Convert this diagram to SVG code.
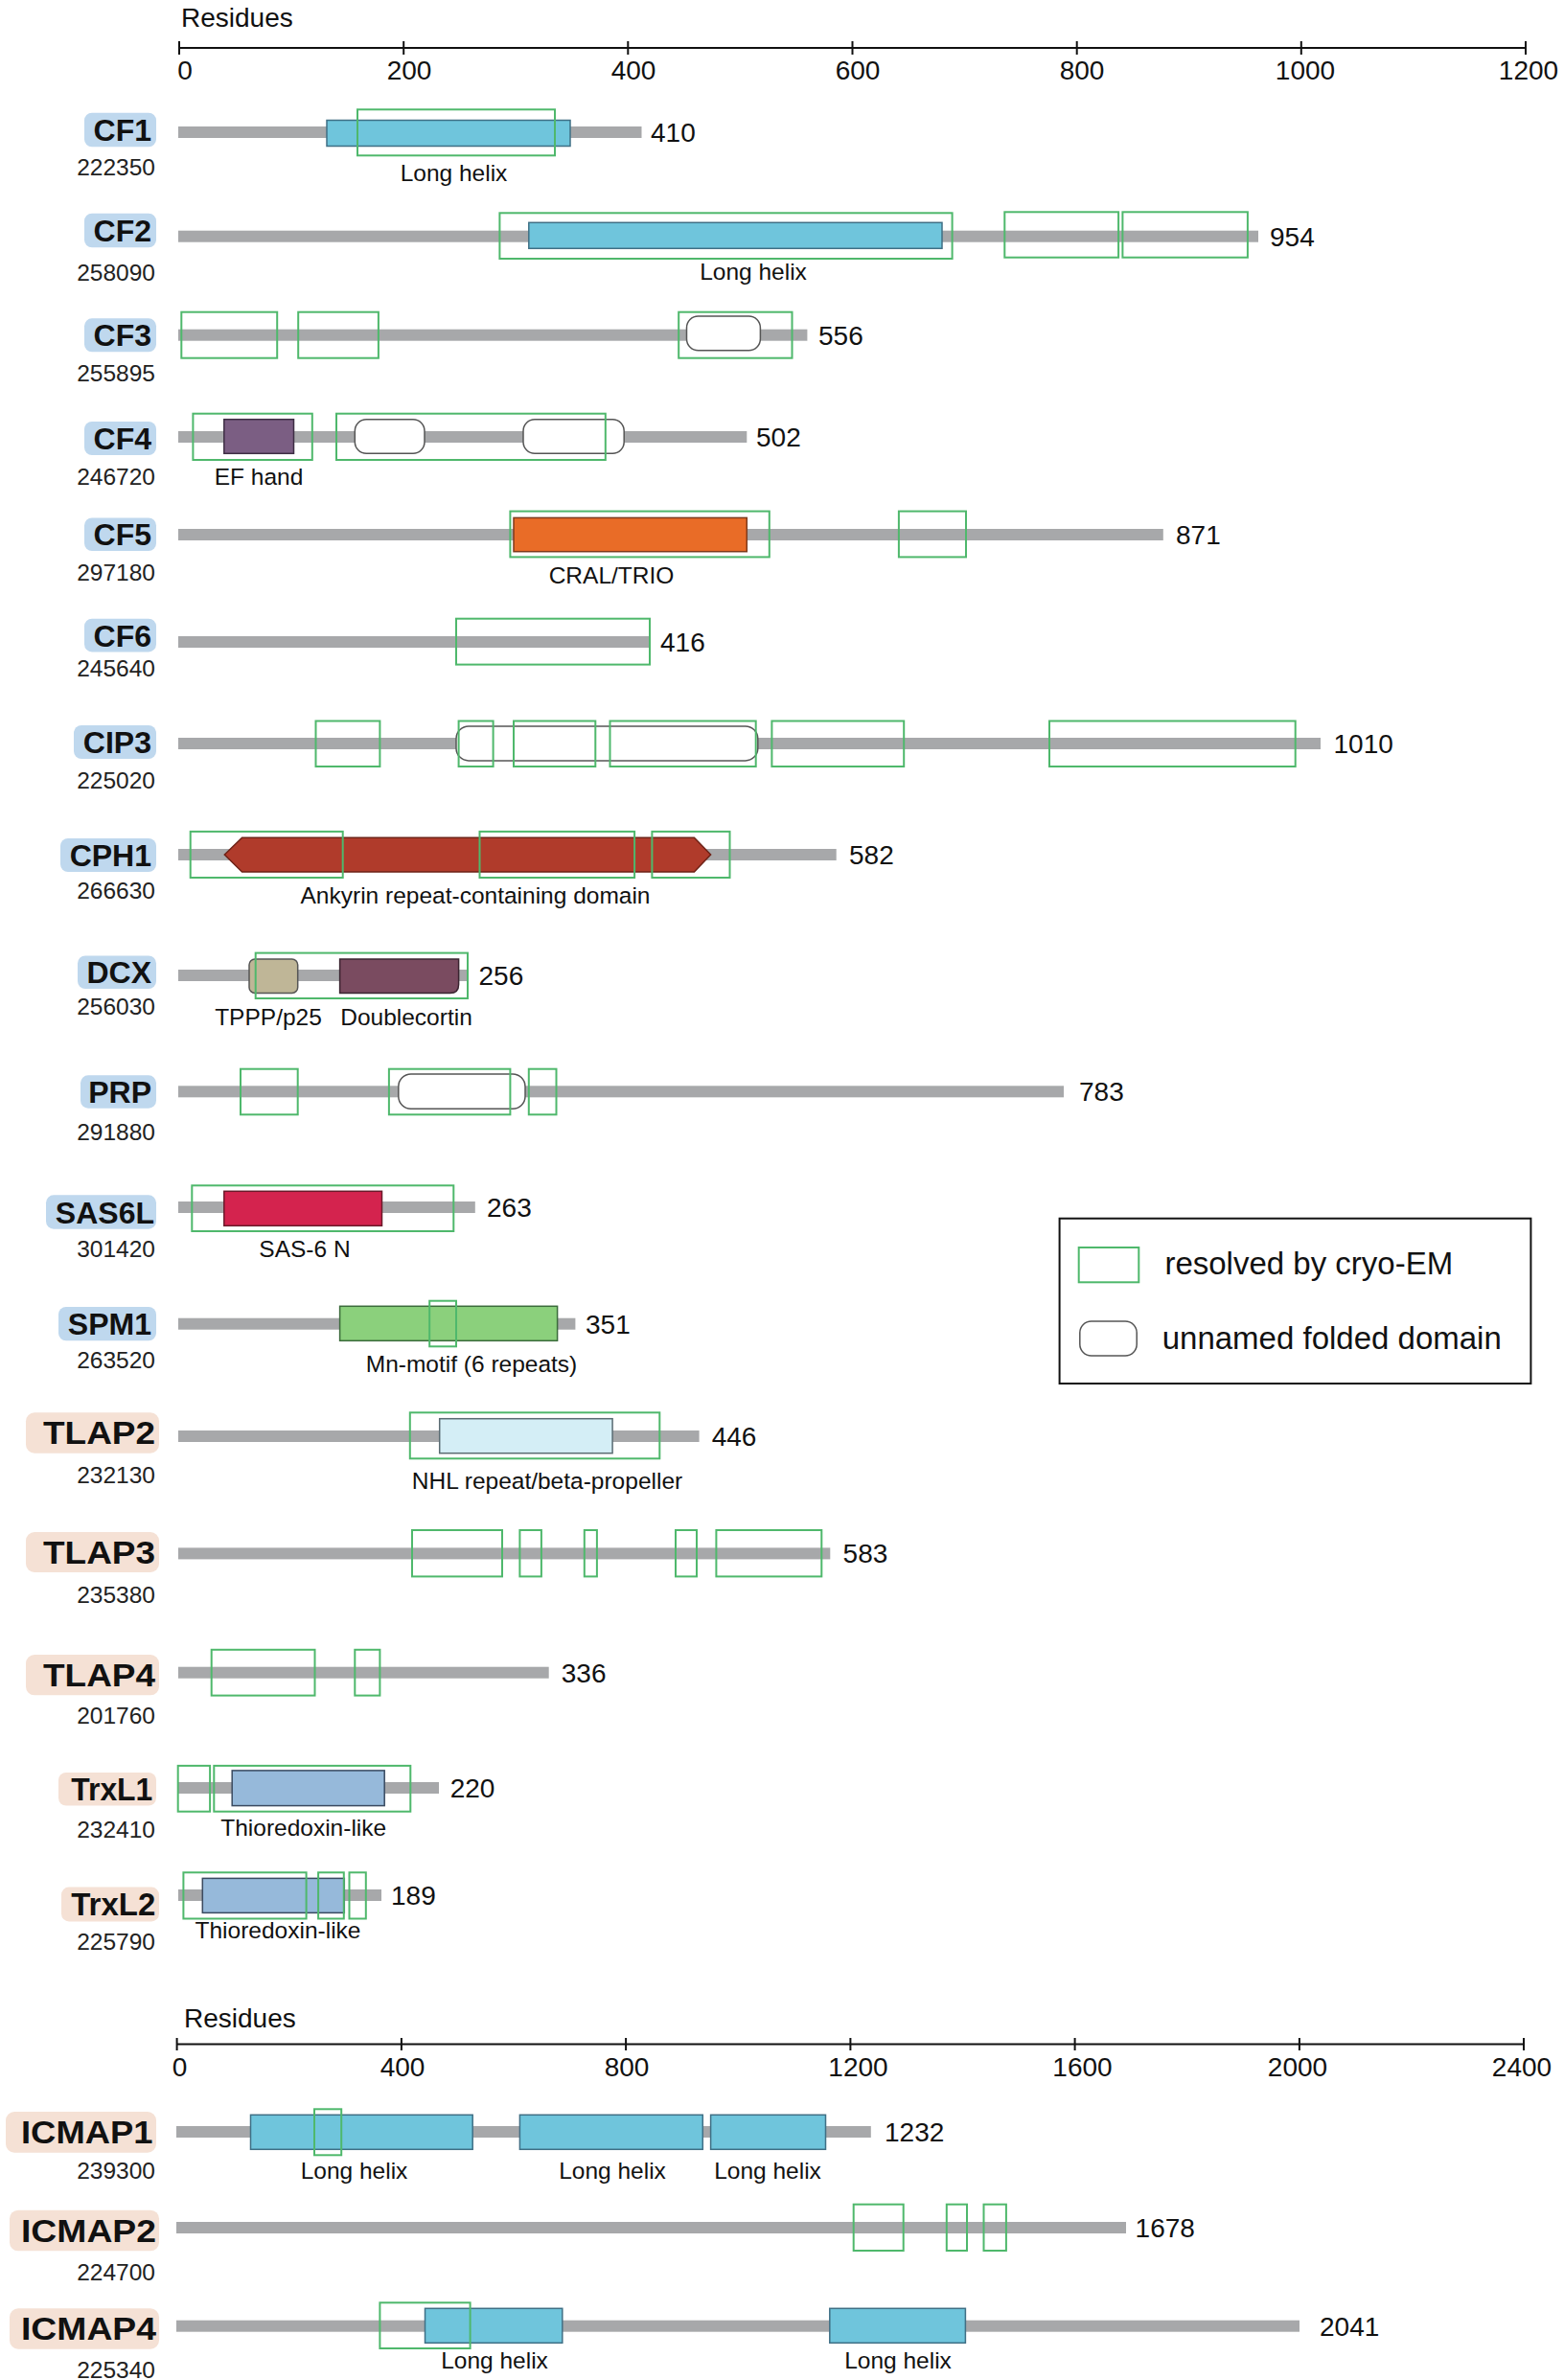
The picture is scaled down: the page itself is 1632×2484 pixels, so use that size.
<svg xmlns="http://www.w3.org/2000/svg" width="1632" height="2484" viewBox="0 0 1632 2484">
<style>
text{font-family:"Liberation Sans",Arial,sans-serif;fill:#111}
.bar{fill:#a7a8aa}
.res{fill:none;stroke:#4fb86c;stroke-width:2}
.helix{fill:#6fc5dc;stroke:#3f6f85;stroke-width:1.5}
.unf{fill:#fff;stroke:#555;stroke-width:1.5}
.nb{fill:#bfd8ee}
.np{fill:#f5e1d5}
.name{font-size:32px;font-weight:bold;text-anchor:end}
.pname{font-size:33px;font-weight:bold}
.id{font-size:24.5px;text-anchor:end;fill:#222}
.len{font-size:28px}
.dl{font-size:24.5px;text-anchor:middle}
.ax{stroke:#111;stroke-width:2;fill:none}
.tk{font-size:28px;text-anchor:middle}
</style>

<g id="axis-top">
<text x="189" y="28" style="font-size:28px">Residues</text>
<path class="ax" d="M187 50H1592M187 43V57M421.2 43V57M655.3 43V57M889.5 43V57M1123.7 43V57M1357.8 43V57M1592 43V57"/>
<text class="tk" x="193" y="83">0</text>
<text class="tk" x="427" y="83">200</text>
<text class="tk" x="661" y="83">400</text>
<text class="tk" x="895" y="83">600</text>
<text class="tk" x="1129" y="83">800</text>
<text class="tk" x="1362" y="83">1000</text>
<text class="tk" x="1595" y="83">1200</text>
</g>

<g id="CF1">
<rect class="nb" x="88" y="117.7" width="75" height="35.6" rx="8"/>
<text class="name" x="158" y="147">CF1</text>
<text class="id" x="162" y="183">222350</text>
<rect class="bar" x="186" y="132" width="483.5" height="12"/>
<rect class="helix" x="341" y="125.5" width="254" height="27"/>
<rect class="res" x="373" y="114.3" width="206" height="48"/>
<text class="dl" x="473.5" y="189">Long helix</text>
<text class="len" x="679" y="148">410</text>
</g>

<g id="CF2">
<rect class="nb" x="88" y="222.7" width="75" height="35.6" rx="8"/>
<text class="name" x="158" y="252">CF2</text>
<text class="id" x="162" y="292.5">258090</text>
<rect class="bar" x="186" y="240.7" width="1127" height="12"/>
<rect class="helix" x="551.8" y="232.3" width="431.2" height="27"/>
<rect class="res" x="521.4" y="222.3" width="472.2" height="47.7"/>
<rect class="res" x="1048.3" y="221.3" width="118.8" height="47.4"/>
<rect class="res" x="1171.4" y="221.3" width="130.5" height="47.4"/>
<text class="dl" x="786" y="292">Long helix</text>
<text class="len" x="1325" y="256.7">954</text>
</g>

<g id="CF3">
<rect class="nb" x="88" y="332.3" width="75" height="35" rx="8"/>
<text class="name" x="158" y="361.3">CF3</text>
<text class="id" x="162" y="398">255895</text>
<rect class="bar" x="186" y="343.7" width="656.4" height="12"/>
<rect class="unf" x="716.5" y="330" width="76.9" height="35.7" rx="12"/>
<rect class="res" x="189.3" y="325.7" width="99.9" height="48"/>
<rect class="res" x="311.2" y="325.7" width="83.7" height="48"/>
<rect class="res" x="708.2" y="325.7" width="118.3" height="48"/>
<text class="len" x="854" y="359.7">556</text>
</g>

<g id="CF4">
<rect class="nb" x="88" y="440" width="75" height="35" rx="8"/>
<text class="name" x="158" y="469">CF4</text>
<text class="id" x="162" y="505.5">246720</text>
<rect class="bar" x="186" y="450" width="593.3" height="12"/>
<rect x="233.8" y="437.7" width="72.7" height="35.6" fill="#7b5e83" stroke="#3e2e44" stroke-width="1.5"/>
<rect class="unf" x="370.3" y="437.7" width="72.7" height="35.6" rx="12"/>
<rect class="unf" x="546" y="437.7" width="105.2" height="35.6" rx="12"/>
<rect class="res" x="201.4" y="431.7" width="124.4" height="48.3"/>
<rect class="res" x="351" y="431.7" width="280.8" height="48.3"/>
<text class="dl" x="270" y="505.5">EF hand</text>
<text class="len" x="789" y="466">502</text>
</g>

<g id="CF5">
<rect class="nb" x="88" y="540.4" width="75" height="34.6" rx="8"/>
<text class="name" x="158" y="569.2">CF5</text>
<text class="id" x="162" y="606">297180</text>
<rect class="bar" x="186" y="552" width="1027.8" height="12"/>
<rect x="536" y="540.4" width="243.3" height="35.3" fill="#e96c27" stroke="#7d3a1c" stroke-width="1.5"/>
<rect class="res" x="532.4" y="533.6" width="270.4" height="47.8"/>
<rect class="res" x="937.9" y="533.6" width="70.1" height="47.8"/>
<text class="dl" x="638" y="609">CRAL/TRIO</text>
<text class="len" x="1227" y="568">871</text>
</g>

<g id="CF6">
<rect class="nb" x="88" y="645.7" width="75" height="34.7" rx="8"/>
<text class="name" x="158" y="674.5">CF6</text>
<text class="id" x="162" y="706">245640</text>
<rect class="bar" x="186" y="664" width="492.3" height="12"/>
<rect class="res" x="476" y="645.7" width="202" height="47.9"/>
<text class="len" x="689" y="680">416</text>
</g>

<g id="CIP3">
<rect class="nb" x="77" y="757" width="86" height="35" rx="8"/>
<text class="name" x="158" y="786">CIP3</text>
<text class="id" x="162" y="823">225020</text>
<rect class="bar" x="186" y="770" width="1192" height="12"/>
<rect class="unf" x="476" y="757.9" width="314.8" height="36" rx="13"/>
<rect class="res" x="329.5" y="752.5" width="66.9" height="47.5"/>
<rect class="res" x="478.6" y="752.5" width="36" height="47.5"/>
<rect class="res" x="536" y="752.5" width="85.3" height="47.5"/>
<rect class="res" x="636.5" y="752.5" width="152.2" height="47.5"/>
<rect class="res" x="805.4" y="752.5" width="137.8" height="47.5"/>
<rect class="res" x="1095" y="752.5" width="256.7" height="47.5"/>
<text class="len" x="1391.5" y="786">1010</text>
</g>

<g id="CPH1">
<rect class="nb" x="63" y="875" width="100" height="35" rx="8"/>
<text class="name" x="158" y="904">CPH1</text>
<text class="id" x="162" y="937.5">266630</text>
<rect class="bar" x="186" y="886" width="686.7" height="12"/>
<polygon points="234.3,892 252.6,874.3 724.4,874.3 741.6,892 724.4,910 252.6,910" fill="#b03b2b" stroke="#6e2217" stroke-width="1.5"/>
<rect class="res" x="198.7" y="867.9" width="159" height="48.1"/>
<rect class="res" x="500.5" y="867.9" width="161.6" height="48.1"/>
<rect class="res" x="680.4" y="867.9" width="81.1" height="48.1"/>
<text class="dl" x="496" y="943">Ankyrin repeat-containing domain</text>
<text class="len" x="886" y="902">582</text>
</g>

<g id="DCX">
<rect class="nb" x="81" y="997.5" width="82" height="34.5" rx="8"/>
<text class="name" x="158" y="1026.2">DCX</text>
<text class="id" x="162" y="1059">256030</text>
<rect class="bar" x="186" y="1012" width="303" height="12"/>
<rect x="260" y="1001" width="50.7" height="35.4" rx="6" fill="#bfb697" stroke="#555" stroke-width="1.5"/>
<path d="M354.6 1001H478.6V1027.4Q478.6 1036.4 469.6 1036.4H354.6Z" fill="#7a4b60" stroke="#3a2430" stroke-width="1.5"/>
<rect class="res" x="266.7" y="994.6" width="221.3" height="47.4"/>
<text class="dl" x="280" y="1070">TPPP/p25</text>
<text class="dl" x="424" y="1070">Doublecortin</text>
<text class="len" x="499.5" y="1028">256</text>
</g>

<g id="PRP">
<rect class="nb" x="84" y="1122.3" width="79" height="34.4" rx="8"/>
<text class="name" x="158" y="1151">PRP</text>
<text class="id" x="162" y="1190">291880</text>
<rect class="bar" x="186" y="1133.3" width="924" height="12"/>
<rect class="unf" x="415.8" y="1121" width="132.2" height="36.3" rx="13"/>
<rect class="res" x="251" y="1115.7" width="59.7" height="47.6"/>
<rect class="res" x="405.9" y="1115.7" width="126.5" height="47.6"/>
<rect class="res" x="551.8" y="1115.7" width="28.7" height="47.6"/>
<text class="len" x="1126" y="1149">783</text>
</g>

<g id="SAS6L">
<rect class="nb" x="48" y="1247.3" width="115" height="35.4" rx="8"/>
<text class="name" x="161" y="1276.5">SAS6L</text>
<text class="id" x="162" y="1311.7">301420</text>
<rect class="bar" x="186" y="1254" width="309.8" height="12"/>
<rect x="233.8" y="1243.3" width="164.7" height="36" fill="#d4234e" stroke="#6a1a2a" stroke-width="1.5"/>
<rect class="res" x="200.3" y="1237.3" width="273" height="47.7"/>
<text class="dl" x="318" y="1312">SAS-6 N</text>
<text class="len" x="508" y="1270">263</text>
</g>

<g id="SPM1">
<rect class="nb" x="61" y="1364" width="102" height="35.3" rx="8"/>
<text class="name" x="158" y="1393.2">SPM1</text>
<text class="id" x="162" y="1428">263520</text>
<rect class="bar" x="186" y="1375.7" width="414.4" height="12"/>
<rect x="354.6" y="1363.3" width="227" height="36" fill="#8bd07c" stroke="#3b6b3b" stroke-width="1.5"/>
<rect class="res" x="448.2" y="1357.7" width="27.8" height="47.6"/>
<text class="dl" x="492" y="1432">Mn-motif (6 repeats)</text>
<text class="len" x="611" y="1391.7">351</text>
</g>

<g id="TLAP2">
<rect class="np" x="27" y="1474.3" width="139" height="42.4" rx="9"/>
<text class="pname" x="45" y="1507" textLength="117" lengthAdjust="spacingAndGlyphs">TLAP2</text>
<text class="id" x="162" y="1547.7">232130</text>
<rect class="bar" x="186" y="1493" width="543.6" height="12"/>
<rect x="458.7" y="1480.7" width="180.4" height="36" fill="#d4eef6" stroke="#5a6b72" stroke-width="1.5"/>
<rect class="res" x="427.8" y="1474.3" width="260.5" height="48"/>
<text class="dl" x="571" y="1554">NHL repeat/beta-propeller</text>
<text class="len" x="742.7" y="1509">446</text>
</g>

<g id="TLAP3">
<rect class="np" x="27" y="1599" width="139" height="42" rx="9"/>
<text class="pname" x="45" y="1631.5" textLength="117" lengthAdjust="spacingAndGlyphs">TLAP3</text>
<text class="id" x="162" y="1673">235380</text>
<rect class="bar" x="186" y="1615.4" width="680.3" height="12"/>
<rect class="res" x="430" y="1597" width="94" height="48.4"/>
<rect class="res" x="542.4" y="1597" width="22.5" height="48.4"/>
<rect class="res" x="609.8" y="1597" width="13.1" height="48.4"/>
<rect class="res" x="705" y="1597" width="22" height="48.4"/>
<rect class="res" x="747.4" y="1597" width="109.9" height="48.4"/>
<text class="len" x="879.6" y="1631.4">583</text>
</g>

<g id="TLAP4">
<rect class="np" x="27" y="1727" width="139" height="42.3" rx="9"/>
<text class="pname" x="45" y="1759.7" textLength="117" lengthAdjust="spacingAndGlyphs">TLAP4</text>
<text class="id" x="162" y="1799">201760</text>
<rect class="bar" x="186" y="1739.7" width="386.7" height="12"/>
<rect class="res" x="220.7" y="1721.8" width="107.8" height="47.8"/>
<rect class="res" x="370.3" y="1721.8" width="26.1" height="47.8"/>
<text class="len" x="585.8" y="1755.7">336</text>
</g>

<g id="TrxL1">
<rect class="np" x="61" y="1850" width="102" height="34.6" rx="8"/>
<text class="pname" x="74.3" y="1878.8" textLength="85" lengthAdjust="spacingAndGlyphs">TrxL1</text>
<text class="id" x="162" y="1918">232410</text>
<rect class="bar" x="186" y="1860" width="272" height="12"/>
<rect x="242.2" y="1847.9" width="159" height="36.7" fill="#96b9da" stroke="#3a4a60" stroke-width="1.5"/>
<rect class="res" x="185.7" y="1842.9" width="33.4" height="47.8"/>
<rect class="res" x="223.3" y="1842.9" width="205" height="47.8"/>
<text class="dl" x="316.7" y="1916">Thioredoxin-like</text>
<text class="len" x="469.7" y="1876">220</text>
</g>

<g id="TrxL2">
<rect class="np" x="64" y="1969.6" width="102" height="35.8" rx="8"/>
<text class="pname" x="74.3" y="1999" textLength="88" lengthAdjust="spacingAndGlyphs">TrxL2</text>
<text class="id" x="162" y="2034.5">225790</text>
<rect class="bar" x="186" y="1972" width="212" height="12"/>
<rect x="211.3" y="1960.4" width="148" height="36" fill="#96b9da" stroke="#3a4a60" stroke-width="1.5"/>
<rect class="res" x="191.4" y="1954.3" width="128.2" height="48.2"/>
<rect class="res" x="332.1" y="1954.3" width="26.7" height="48.2"/>
<rect class="res" x="364.5" y="1954.3" width="17.3" height="48.2"/>
<text class="dl" x="290" y="2023">Thioredoxin-like</text>
<text class="len" x="408" y="1988">189</text>
</g>

<g id="axis-bottom">
<text x="192" y="2116" style="font-size:28px">Residues</text>
<path class="ax" d="M184.6 2133.5H1590M184.6 2127V2140M418.9 2127V2140M653.1 2127V2140M887.4 2127V2140M1121.6 2127V2140M1355.9 2127V2140M1590 2127V2140"/>
<text class="tk" x="187.5" y="2167">0</text>
<text class="tk" x="420" y="2167">400</text>
<text class="tk" x="654" y="2167">800</text>
<text class="tk" x="895.5" y="2167">1200</text>
<text class="tk" x="1129.5" y="2167">1600</text>
<text class="tk" x="1354" y="2167">2000</text>
<text class="tk" x="1588" y="2167">2400</text>
</g>

<g id="ICMAP1">
<rect class="np" x="6" y="2204" width="157" height="42.7" rx="9"/>
<text class="pname" x="22" y="2237" textLength="137.5" lengthAdjust="spacingAndGlyphs">ICMAP1</text>
<text class="id" x="162" y="2274">239300</text>
<rect class="bar" x="184" y="2219" width="724.8" height="12"/>
<rect class="helix" x="261.5" y="2207.3" width="231.7" height="36"/>
<rect class="helix" x="542.4" y="2207.3" width="190.9" height="36"/>
<rect class="helix" x="741.6" y="2207.3" width="119.9" height="36"/>
<rect class="res" x="328" y="2201.3" width="28.2" height="48"/>
<text class="dl" x="369.5" y="2274">Long helix</text>
<text class="dl" x="639" y="2274">Long helix</text>
<text class="dl" x="801" y="2274">Long helix</text>
<text class="len" x="923" y="2235">1232</text>
</g>

<g id="ICMAP2">
<rect class="np" x="10" y="2306.7" width="156" height="42.6" rx="9"/>
<text class="pname" x="22" y="2339.5" textLength="141" lengthAdjust="spacingAndGlyphs">ICMAP2</text>
<text class="id" x="162" y="2380">224700</text>
<rect class="bar" x="184" y="2319" width="991" height="12"/>
<rect class="res" x="890.7" y="2300.7" width="52" height="48.3"/>
<rect class="res" x="987.8" y="2300.7" width="21.2" height="48.3"/>
<rect class="res" x="1026.5" y="2300.7" width="23.4" height="48.3"/>
<text class="len" x="1184.6" y="2335">1678</text>
</g>

<g id="ICMAP4">
<rect class="np" x="10" y="2409.3" width="156" height="42.4" rx="9"/>
<text class="pname" x="22" y="2442" textLength="141" lengthAdjust="spacingAndGlyphs">ICMAP4</text>
<text class="id" x="162" y="2481.5">225340</text>
<rect class="bar" x="184" y="2421.7" width="1172" height="12"/>
<rect class="helix" x="443.5" y="2409.3" width="143.3" height="36"/>
<rect class="helix" x="865.8" y="2409.3" width="141.6" height="36"/>
<rect class="res" x="396.4" y="2403.3" width="94.2" height="47.7"/>
<text class="dl" x="516" y="2472">Long helix</text>
<text class="dl" x="937" y="2472">Long helix</text>
<text class="len" x="1377" y="2437.7">2041</text>
</g>

<g id="legend">
<rect x="1105.6" y="1271.7" width="491.8" height="172.3" fill="none" stroke="#111" stroke-width="2"/>
<rect class="res" x="1125.7" y="1302" width="62.6" height="36.3"/>
<text x="1215.4" y="1330" style="font-size:33px">resolved by cryo-EM</text>
<rect class="unf" x="1126.8" y="1379" width="59.4" height="36" rx="12"/>
<text x="1212.7" y="1408" style="font-size:33px">unnamed folded domain</text>
</g>
</svg>
